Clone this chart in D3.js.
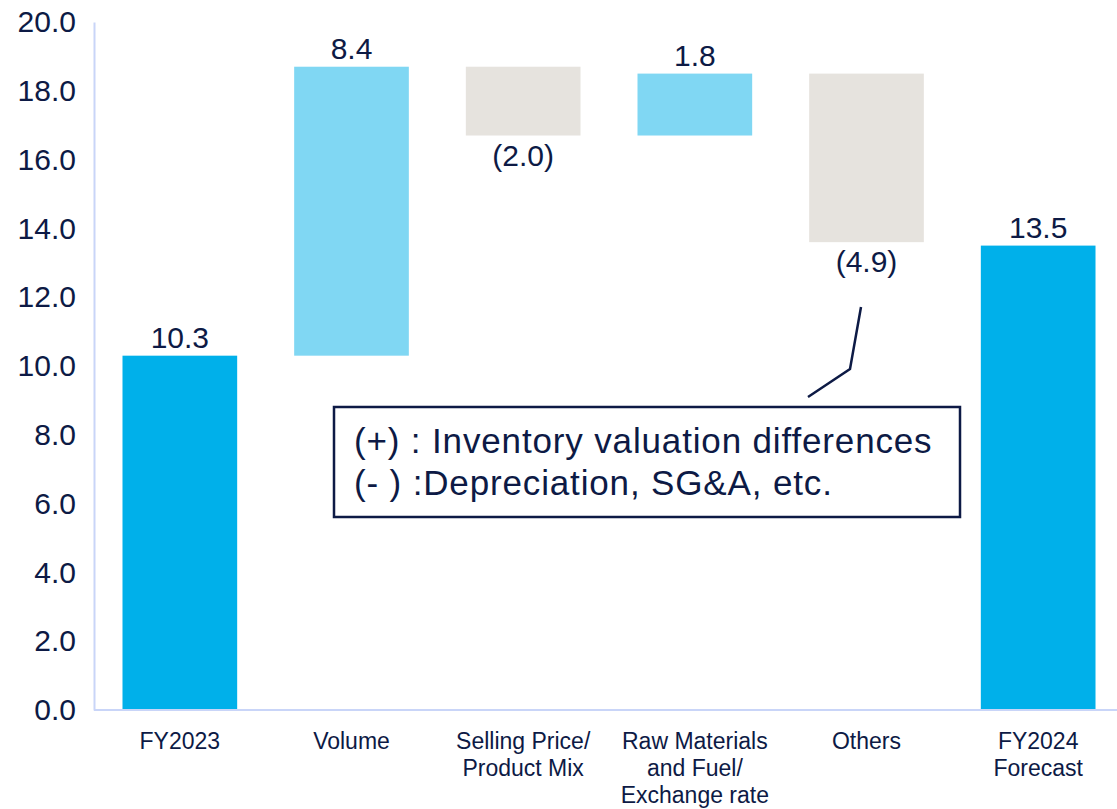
<!DOCTYPE html>
<head>
<meta charset="utf-8">
<script src="https://d3js.org/d3.v7.min.js"></script>
<style>
    body {
        margin: 0;
        background: #fff;
        font-family: Arial, "Liberation Sans", sans-serif;
    }
    .axis text {
        fill: #0d1a45;
    }
    .axis .domain {
        stroke: #c9d5f8;
        stroke-width: 2px;
    }
    .vlabel {
        fill: #0d1a45;
        font-size: 30px;
        text-anchor: middle;
    }
    .note text {
        fill: #0d1a45;
        font-size: 35px;
        letter-spacing: 0.85px;
    }
</style>
</head>
<body>
<script>

    // chart data
    var categories = [
        ["FY2023"],
        ["Volume"],
        ["Selling Price/", "Product Mix"],
        ["Raw Materials", "and Fuel/", "Exchange rate"],
        ["Others"],
        ["FY2024", "Forecast"]
    ];
    var stepValues = [10.3, 8.4, -2.0, 1.8, -4.9, 13.5];
    var stepKinds = ["total", "delta", "delta", "delta", "delta", "total"];
    var valueLabels = ["10.3", "8.4", "(2.0)", "1.8", "(4.9)", "13.5"];
    var yTicks = [0, 2, 4, 6, 8, 10, 12, 14, 16, 18, 20];
    var noteLines = ["(+) : Inventory valuation differences", "(- ) :Depreciation, SG&A, etc."];

    var width = 1117, height = 809;

    // waterfall: running start/end for each bar
    var run = 0;
    var bars = stepValues.map(function(v, i) {
        var lo, hi;
        if (stepKinds[i] == "total") {
            lo = 0; hi = v; run = v;
        } else {
            lo = Math.min(run, run + v); hi = Math.max(run, run + v);
            run = run + v;
        }
        return {i: i, v: v, kind: stepKinds[i], lo: lo, hi: hi, label: valueLabels[i]};
    });

    var x = d3.scaleBand()
        .domain(d3.range(categories.length))
        .range([94, 1124])
        .paddingInner(0.332)
        .paddingOuter(0.166);

    var y = d3.scaleLinear()
        .domain([0, 20])
        .range([710, 22]);

    var svg = d3.select("body").append("svg")
        .attr("width", width)
        .attr("height", height);

    function barColor(d) {
        if (d.kind == "total") return "#00b0ea";
        return d.v >= 0 ? "#80d7f3" : "#e6e3de";
    }

    svg.selectAll("rect.bar")
        .data(bars)
        .enter().append("rect")
        .attr("class", "bar")
        .attr("x", function(d) { return x(d.i); })
        .attr("width", x.bandwidth())
        .attr("y", function(d) { return y(d.hi); })
        .attr("height", function(d) { return y(d.lo) - y(d.hi); })
        .attr("fill", barColor);

    // value labels: above for increases/totals, below for decreases
    svg.selectAll("text.vlabel")
        .data(bars)
        .enter().append("text")
        .attr("class", "vlabel")
        .attr("x", function(d) { return x(d.i) + x.bandwidth() / 2; })
        .attr("y", function(d) { return d.v >= 0 ? y(d.hi) - 8 : y(d.lo) + 30; })
        .text(function(d) { return d.label; });

    // y axis
    var yAxis = svg.append("g")
        .attr("class", "axis")
        .attr("transform", "translate(94,0)")
        .call(d3.axisLeft(y).tickValues(yTicks).tickSize(0).tickPadding(18)
            .tickFormat(d3.format(".1f")));
    yAxis.selectAll("text")
        .style("font-size", "30px")
        .attr("font-family", "Arial, 'Liberation Sans', sans-serif");

    // x axis
    var xAxis = svg.append("g")
        .attr("class", "axis")
        .attr("transform", "translate(0,710)")
        .call(d3.axisBottom(x).tickSize(0).tickSizeOuter(0).tickFormat(""));
    xAxis.select(".domain").attr("d", "M94,0H" + width);

    xAxis.selectAll(".tick text").remove();
    xAxis.selectAll(".tick").append("text")
        .attr("text-anchor", "middle")
        .attr("font-family", "Arial, 'Liberation Sans', sans-serif")
        .style("font-size", "23px")
        .each(function(d) {
            var t = d3.select(this);
            categories[d].forEach(function(line, k) {
                t.append("tspan")
                    .attr("x", 0)
                    .attr("y", 39 + k * 27)
                    .text(line);
            });
        });

    // callout note
    var note = svg.append("g").attr("class", "note");
    note.append("polyline")
        .attr("points", "808,397 850,369 861,307")
        .attr("fill", "none")
        .attr("stroke", "#0d1a45")
        .attr("stroke-width", 2.5);
    note.append("rect")
        .attr("x", 334)
        .attr("y", 407)
        .attr("width", 626)
        .attr("height", 110)
        .attr("fill", "#fff")
        .attr("stroke", "#0d1a45")
        .attr("stroke-width", 2.5);
    note.selectAll("text")
        .data(noteLines)
        .enter().append("text")
        .attr("x", 354)
        .attr("y", function(d, i) { return 453 + i * 42; })
        .text(function(d) { return d; });

</script>
</body>
